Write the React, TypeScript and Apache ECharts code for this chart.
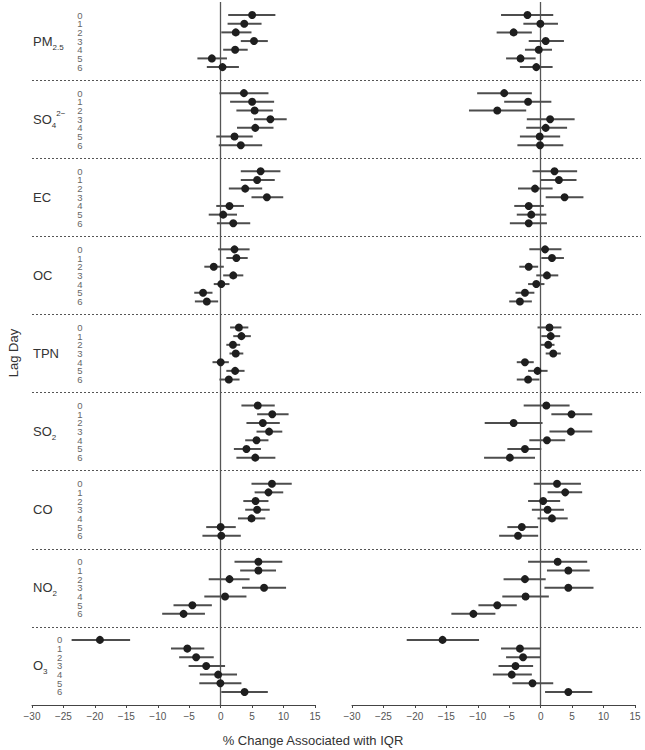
import React, { useEffect, useRef } from 'react';
import * as echarts from 'echarts';

// Pollutants (top to bottom) and lag days
const pollutantNames = ['PM2.5', 'SO4 2-', 'EC', 'OC', 'TPN', 'SO2', 'CO', 'NO2', 'O3'];
const pollutantRich = [
  '{b|PM}{sub|2.5}',
  '{b|SO}{sub|4}{sup|2−}',
  '{b|EC}',
  '{b|OC}',
  '{b|TPN}',
  '{b|SO}{sub|2}',
  '{b|CO}',
  '{b|NO}{sub|2}',
  '{b|O}{sub|3}',
];
const lagDays = ['0', '1', '2', '3', '4', '5', '6'];
const axisTitle = '% Change Associated with IQR';
const yTitle = 'Lag Day';

// Left panel: estimate, lower and upper CI (pollutant by pollutant, lag 0..6)
const leftEst = [
  5.0, 3.75, 2.4, 5.3, 2.3, -1.4, 0.3,
  3.7, 5.0, 5.4, 7.9, 5.5, 2.2, 3.2,
  6.35, 5.8, 3.9, 7.35, 1.4, 0.4, 2.0,
  2.2, 2.5, -1.1, 2.0, 0.1, -2.8, -2.2,
  2.9, 3.3, 1.95, 2.4, 0.0, 2.3, 1.3,
  5.9, 8.2, 6.7, 7.7, 5.7, 4.1, 5.5,
  8.15, 7.6, 5.55, 5.8, 4.9, 0.0, 0.1,
  6.0, 6.0, 1.4, 6.9, 0.7, -4.5, -5.9,
  -19.2, -5.3, -3.9, -2.3, -0.4, -0.05, 3.8,
];
const leftLo = [
  1.2, 1.1, 0.1, 3.2, 0.4, -3.7, -2.2,
  -0.2, 1.5, 2.5, 5.3, 2.6, -0.7, -0.3,
  3.2, 3.2, 1.3, 4.9, -0.7, -1.9, -0.6,
  -0.4, 0.9, -2.6, 0.4, -1.1, -4.2, -4.1,
  1.5, 2.0, 0.9, 1.4, -1.3, 0.9, -0.2,
  3.3, 5.8, 4.1, 5.7, 3.9, 2.1, 2.5,
  4.9, 5.4, 3.6, 3.9, 2.75, -2.3, -2.9,
  2.2, 3.1, -1.9, 3.4, -2.6, -7.5, -9.3,
  -23.7, -7.9, -6.6, -5.1, -3.3, -3.4, 0.1,
];
const leftHi = [
  8.7, 6.5, 4.9, 7.5, 4.3, 1.0, 2.9,
  7.6, 8.5, 8.3, 10.5, 8.4, 5.1, 6.6,
  9.5, 8.6, 6.6, 9.95, 3.7, 2.6, 4.7,
  4.6, 4.3, 0.5, 3.6, 1.4, -1.3, -0.4,
  4.4, 4.8, 3.1, 3.6, 1.3, 3.8, 3.0,
  8.6, 10.8, 9.4, 9.8, 7.6, 6.4, 8.7,
  11.3, 9.95, 7.6, 7.8, 7.1, 2.4, 3.2,
  9.8, 8.8, 4.6, 10.4, 4.1, -1.4, -2.5,
  -14.4, -2.6, -1.1, 0.7, 2.6, 3.3, 7.5,
];

// Right panel
const rightEst = [
  -2.1, -0.05, -4.3, 0.8, -0.3, -3.2, -0.7,
  -5.8, -2.0, -6.9, 1.5, 0.8, -0.15, -0.1,
  2.2, 2.9, -0.9, 3.8, -1.9, -1.5, -1.9,
  0.7, 1.8, -1.9, 1.0, -0.7, -2.5, -3.3,
  1.4, 1.6, 1.2, 2.0, -2.5, -0.5, -2.0,
  0.9, 4.9, -4.3, 4.8, 1.0, -2.5, -4.9,
  2.6, 3.9, 0.4, 1.1, 1.8, -3.0, -3.6,
  2.7, 4.4, -2.5, 4.4, -2.4, -6.9, -10.7,
  -15.6, -3.3, -2.8, -4.0, -4.6, -1.3, 4.4,
];
const rightLo = [
  -6.3, -2.75, -7.0, -1.9, -2.5, -5.5, -3.3,
  -10.1, -5.8, -11.4, -2.2, -2.3, -3.3, -3.7,
  -1.3, 0.0, -3.6, 0.8, -4.2, -3.8, -4.9,
  -1.8, 0.1, -3.4, -0.7, -2.0, -4.0, -5.0,
  -0.5, 0.1, 0.0, 0.8, -3.8, -2.0, -3.8,
  -2.7, 1.7, -8.9, 1.4, -1.8, -5.3, -9.0,
  -1.1, 1.1, -2.0, -1.4, -0.5, -5.3, -6.6,
  -2.0, 1.0, -5.9, 0.6, -6.1, -9.9, -14.2,
  -21.3, -6.3, -5.5, -6.7, -7.6, -4.5, 0.7,
];
const rightHi = [
  2.0, 2.75, -1.4, 3.7, 1.8, -0.8, 1.9,
  -1.4, 1.7, -2.3, 5.4, 4.2, 3.1, 3.6,
  5.8, 5.7, 1.9, 6.8, 0.5, 0.9, 1.0,
  3.3, 3.7, -0.4, 2.8, 0.6, -1.0, -1.4,
  3.3, 3.1, 2.2, 3.2, -1.1, 1.1, -0.2,
  4.6, 8.2, 0.3, 8.2, 3.9, 0.1, -0.9,
  6.4, 6.6, 3.1, 3.7, 4.3, -0.4, -0.4,
  7.4, 7.8, 0.8, 8.4, 1.3, -3.8, -7.2,
  -9.8, -0.05, -0.05, -1.2, -1.4, 2.0, 8.2,
];

const FONT = '"Liberation Sans", Arial, Helvetica, sans-serif';
const BLOCK = 9; // row units per pollutant block
const rowPos = (g: number, l: number) => g * BLOCK + 1.5 + l;
const Y_MAX = pollutantNames.length * BLOCK;

function buildPanel(est: number[], lo: number[], hi: number[], idx: number) {
  const bars: number[][] = [];
  const dots: number[][] = [];
  pollutantNames.forEach((_, g) => {
    lagDays.forEach((__, l) => {
      const i = g * lagDays.length + l;
      bars.push([lo[i], hi[i], rowPos(g, l)]);
      dots.push([est[i], rowPos(g, l)]);
    });
  });
  return [
    {
      type: 'custom',
      xAxisIndex: idx,
      yAxisIndex: idx,
      data: bars,
      encode: { x: [0, 1], y: 2 },
      silent: true,
      z: 3,
      renderItem: (params: any, api: any) => {
        const y = api.value(2);
        const a = api.coord([api.value(0), y]);
        const b = api.coord([api.value(1), y]);
        return {
          type: 'line',
          shape: { x1: a[0], y1: a[1], x2: b[0], y2: b[1] },
          style: { stroke: '#4d4d4d', lineWidth: 2 },
        };
      },
    },
    {
      type: 'scatter',
      xAxisIndex: idx,
      yAxisIndex: idx,
      data: dots,
      symbol: 'circle',
      symbolSize: 8,
      itemStyle: { color: '#1e1e1e', opacity: 1 },
      silent: true,
      z: 5,
      markLine: {
        silent: true,
        symbol: 'none',
        label: { show: false },
        lineStyle: { color: '#555', width: 1.3, type: 'solid' },
        data: [{ xAxis: 0 }],
        z: 2,
      },
    },
  ];
}

export default function App() {
  const ref = useRef<HTMLDivElement>(null);
  useEffect(() => {
    if (!ref.current) return;
    const chart = echarts.init(ref.current, null, { renderer: 'svg' });

    const xAxisCommon = {
      type: 'value',
      min: -30,
      max: 15,
      interval: 5,
      position: 'bottom',
      axisLine: { show: true, onZero: false, lineStyle: { color: '#444', width: 1 } },
      axisTick: { show: true, length: 3, lineStyle: { color: '#444' } },
      axisLabel: {
        fontSize: 10,
        color: '#555',
        margin: 6,
        fontFamily: FONT,
        formatter: (v: number) => String(v).replace('-', '−'),
      },
      splitLine: { show: false },
    };
    const yAxisCommon = { type: 'value', min: 0, max: Y_MAX, inverse: true, show: false };

    const dividerData = pollutantNames.slice(1).map((_, g) => ({ yAxis: (g + 1) * BLOCK }));

    chart.setOption({
      animation: false,
      backgroundColor: '#ffffff',
      grid: [
        { left: 32, top: 2, width: 283, height: 703 },
        { left: 352, top: 2, width: 283, height: 703 },
        { left: 32, top: 2, right: 4, height: 703 },
      ],
      xAxis: [
        { ...xAxisCommon, gridIndex: 0 },
        { ...xAxisCommon, gridIndex: 1 },
        { type: 'value', gridIndex: 2, min: 0, max: 1, show: false },
      ],
      yAxis: [
        { ...yAxisCommon, gridIndex: 0 },
        { ...yAxisCommon, gridIndex: 1 },
        { ...yAxisCommon, gridIndex: 2 },
      ],
      series: [
        {
          type: 'line',
          xAxisIndex: 2,
          yAxisIndex: 2,
          data: [[0.5, -10]],
          symbol: 'none',
          lineStyle: { opacity: 0 },
          silent: true,
          markLine: {
            silent: true,
            symbol: 'none',
            label: { show: false },
            lineStyle: { color: '#555', width: 1, type: [2, 2] },
            data: dividerData,
          },
        },
        ...buildPanel(leftEst, leftLo, leftHi, 0),
        ...buildPanel(rightEst, rightLo, rightHi, 1),
      ],
    });

    // Row labels positioned through the left panel's scales
    const toPx = (x: number, y: number) =>
      chart.convertToPixel({ xAxisIndex: 0, yAxisIndex: 0 }, [x, y]) as number[];
    const graphics: any[] = [];
    pollutantNames.forEach((_, g) => {
      const lagX = g === pollutantNames.length - 1 ? -25.6 : -22.4;
      lagDays.forEach((d, l) => {
        const p = toPx(lagX, rowPos(g, l));
        graphics.push({
          type: 'text',
          x: p[0],
          y: p[1],
          silent: true,
          style: {
            text: d,
            fontSize: 9.5,
            fill: '#666',
            fontFamily: FONT,
            align: 'center',
            verticalAlign: 'middle',
          },
        });
      });
      const n = toPx(-30, rowPos(g, 3));
      graphics.push({
        type: 'text',
        x: n[0] + 1,
        y: n[1],
        silent: true,
        style: {
          text: pollutantRich[g],
          fontFamily: FONT,
          align: 'left',
          verticalAlign: 'middle',
          rich: {
            b: { fontSize: 13, fill: '#333', fontFamily: FONT, lineHeight: 20 },
            sub: { fontSize: 8, fill: '#333', fontFamily: FONT, verticalAlign: 'bottom', lineHeight: 20 },
            sup: { fontSize: 8, fill: '#333', fontFamily: FONT, verticalAlign: 'top', lineHeight: 20 },
          },
        },
      });
    });
    graphics.push(
      {
        type: 'text',
        x: 13,
        y: 353,
        rotation: Math.PI / 2,
        silent: true,
        style: {
          text: yTitle,
          fontSize: 13,
          fill: '#333',
          fontFamily: FONT,
          align: 'center',
          verticalAlign: 'middle',
        },
      },
      {
        type: 'text',
        x: 313,
        y: 740,
        silent: true,
        style: {
          text: axisTitle,
          fontSize: 13,
          fill: '#333',
          fontFamily: FONT,
          align: 'center',
          verticalAlign: 'middle',
        },
      }
    );
    chart.setOption({ graphic: graphics });

    return () => chart.dispose();
  }, []);

  return (
    <div
      ref={ref}
      style={{ position: 'absolute', left: 0, top: 0, width: 645, height: 750, background: '#fff' }}
    />
  );
}
